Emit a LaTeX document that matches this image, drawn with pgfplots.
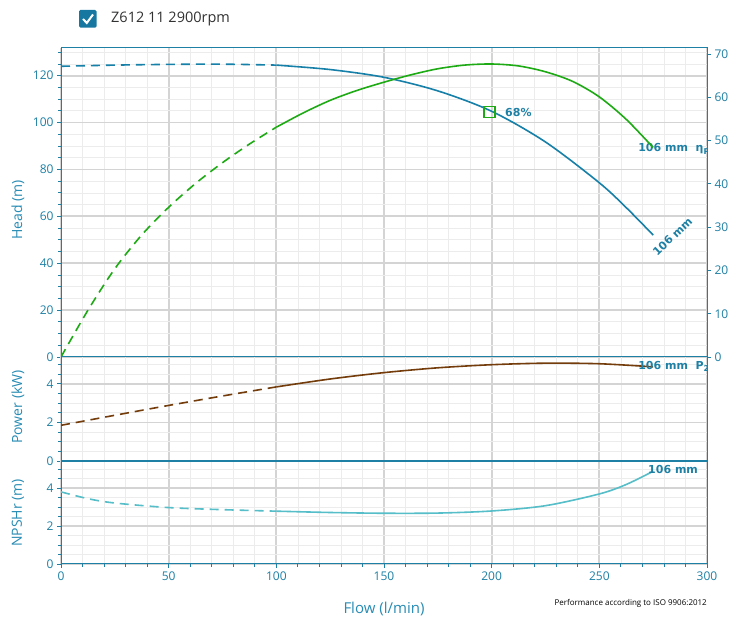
\documentclass[border=0pt]{standalone}
\usepackage{pgfplots}
\pgfplotsset{compat=1.18}
\usepackage{fontspec}
\setmainfont{Open Sans}
\newfontfamily\labfont{DejaVu Sans}
\definecolor{axblue}{RGB}{30,128,165}
\definecolor{lblblue}{RGB}{40,140,180}
\definecolor{headc}{RGB}{22,128,168}
\definecolor{effc}{RGB}{30,170,20}
\definecolor{powc}{RGB}{115,60,10}
\definecolor{npshc}{RGB}{85,190,200}
\definecolor{gmaj}{RGB}{212,212,212}
\definecolor{gmin}{RGB}{236,236,236}
\definecolor{boxc}{RGB}{22,120,160}
\tikzset{
  mydash/.style={dash pattern=on 9bp off 6bp},
  clab/.style={font=\labfont\bfseries\fontsize{11bp}{13bp}\selectfont, text=axblue, inner sep=0pt},
}
\pgfplotsset{
  base/.style={
    scale only axis, width=646bp, anchor=south west,
    xmin=0, xmax=300, xtick={0,50,...,300}, minor xtick={0,10,...,300},
    grid=both,
    major grid style={gmaj, line width=1.8bp},
    minor grid style={gmin, line width=0.7bp},
    axis line style={axblue, line width=1bp},
    tick style={axblue, line width=0.8bp},
    tick align=outside, major tick length=4bp, minor tick length=3bp,
    ticklabel style={font=\fontsize{12bp}{14bp}\selectfont, text=axblue},
    /pgf/number format/assume math mode=true,
    ytick pos=left, xtick pos=bottom,
    every axis plot/.append style={line width=1.6bp},
  },
}
\begin{document}
\begin{tikzpicture}
\path[use as bounding box, fill=white] (0,0) rectangle (742bp,638bp);

% header
\fill[boxc, rounded corners=1.5bp] (79bp,610.3bp) rectangle (96.7bp,628bp);
\draw[white, line width=2bp] (83bp,619bp) -- (86.8bp,615bp) -- (93bp,623.5bp);
\node[anchor=west, inner sep=0pt, text={rgb,255:red,50;green,50;blue,50}, font=\fontsize{14.5bp}{16bp}\selectfont] at (111bp,619.5bp) {Z612 11 2900rpm};

% Head axis
\begin{axis}[base, at={(61bp,281bp)}, height=309bp,
  ymin=0, ymax=131.8, ytick={0,20,...,120}, minor ytick={0,5,...,130},
  xticklabels={}, xtick style={draw=none}]
\addplot[headc, mydash, smooth] coordinates {(0,124.0) (25,124.5) (50,124.8) (75,124.9) (100,124.5)};
\addplot[headc, smooth] coordinates {(100,124.5) (125,122.6) (150,119.3) (175,113.5) (200,104.8) (225,91.7) (250,74.3) (262.5,63.7) (275,52)};
\addplot[effc, only marks, mark=square, mark size=5.5bp, mark options={line width=1.2bp}] coordinates {(199,104.5)};
\node[clab, anchor=west] at (axis cs:206.2,104.5) {68\%};
\node[clab, rotate=44] at (axis cs:284,51.4) {106 mm};
\node[clab, anchor=west] at (axis cs:268,88.7) {106 mm\ \ η\raisebox{-0.35ex}{\fontsize{8bp}{9bp}\selectfont P}};
\end{axis}

% Efficiency (right axis)
\begin{axis}[base, at={(61bp,281bp)}, height=309bp,
  ymin=0, ymax=71.4, ytick={0,10,...,70}, grid=none,
  axis x line=none, axis y line*=right, ytick pos=right, minor ytick={}]
\addplot[effc, mydash, smooth] coordinates {(0,0) (12.5,10.8) (25,20.4) (37.5,28.2) (50,34.6) (62.5,40.1) (75,44.9) (87.5,49.2) (100,53.1)};
\addplot[effc, smooth] coordinates {(100,53.1) (112.5,56.4) (125,59.3) (137.5,61.6) (150,63.5) (162.5,65.2) (175,66.6) (187.5,67.45) (200,67.7) (212.5,67.25) (225,65.9) (237.5,63.7) (250,60.1) (262.5,54.9) (275,48.4)};
\end{axis}

% Power axis
\begin{axis}[base, at={(61bp,177bp)}, height=104bp,
  ymin=0, ymax=5.39, ytick={0,2,4}, minor ytick={0,0.5,...,5},
  xticklabels={}, xtick style={draw=none}]
\addplot[powc, mydash, smooth] coordinates {(0,1.85) (25,2.37) (50,2.88) (75,3.37) (100,3.84)};
\addplot[powc, smooth] coordinates {(100,3.84) (125,4.25) (150,4.58) (175,4.83) (200,4.99) (225,5.07) (250,5.04) (275,4.88)};
\node[clab, anchor=west] at (axis cs:268,4.92) {106 mm\ \ P\raisebox{-0.35ex}{\fontsize{8bp}{9bp}\selectfont 2}};
\end{axis}
\draw[axblue, line width=1bp] (707bp,177bp) -- (707bp,281bp);

% NPSH axis
\begin{axis}[base, at={(61bp,74bp)}, height=103bp,
  ymin=0, ymax=5.44, ytick={0,2,4}, minor ytick={0,0.5,...,5}]
\addplot[npshc, mydash, smooth] coordinates {(0,3.81) (12.5,3.45) (25,3.22) (50,2.98) (75,2.87) (100,2.79)};
\addplot[npshc, smooth] coordinates {(100,2.79) (125,2.72) (150,2.68) (175,2.69) (200,2.8) (225,3.08) (250,3.7) (262.5,4.2) (275,4.9)};
\node[clab, anchor=west] at (axis cs:272.6,5.0) {106 mm};
\end{axis}
\draw[axblue, line width=2bp] (61bp,177bp) -- (707bp,177bp);

% labels
\node[rotate=90, text=lblblue, font=\fontsize{14bp}{16bp}\selectfont] at (18bp,428bp) {Head (m)};
\node[rotate=90, text=lblblue, font=\fontsize{14bp}{16bp}\selectfont] at (18bp,231bp) {Power (kW)};
\node[rotate=90, text=lblblue, font=\fontsize{14bp}{16bp}\selectfont] at (18bp,125bp) {NPSHr (m)};
\node[text=lblblue, font=\fontsize{15bp}{17bp}\selectfont] at (384bp,29bp) {Flow (l/min)};
\node[anchor=east, inner sep=0pt, font=\fontsize{8bp}{9bp}\selectfont] at (707bp,35bp) {Performance according to ISO 9906:2012};
\end{tikzpicture}
\end{document}
